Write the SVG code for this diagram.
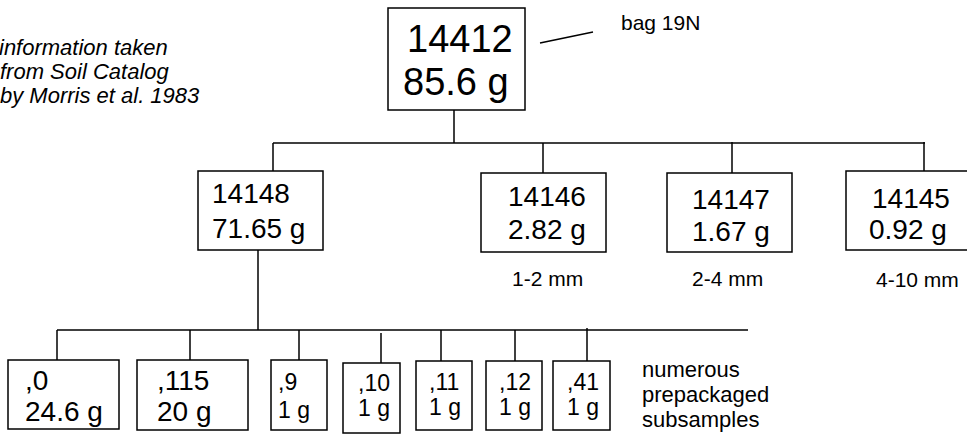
<svg xmlns="http://www.w3.org/2000/svg" width="967" height="437" viewBox="0 0 967 437">
<style>
text{font-family:"Liberation Sans",Arial,sans-serif;fill:#000}
.box{fill:#fff;stroke:#000;stroke-width:1.5}
.ln{stroke:#000;stroke-width:1.5;fill:none}
.big{font-size:38px}
.mid{font-size:28px}
.sm{font-size:23px}
.lbl{font-size:21px}
.note{font-size:22px;font-style:italic}
.n22{font-size:22px}
</style>
<rect width="967" height="437" fill="#fff"/>
<g id="connectors">
<line class="ln" x1="454" y1="110" x2="454" y2="143"/>
<line class="ln" x1="273" y1="143" x2="925" y2="143"/>
<line class="ln" x1="273" y1="143" x2="273" y2="171"/>
<line class="ln" x1="543" y1="143" x2="543" y2="173"/>
<line class="ln" x1="732" y1="142" x2="732" y2="173"/>
<line class="ln" x1="924" y1="142" x2="924" y2="171"/>
<line class="ln" x1="258" y1="250" x2="258" y2="330"/>
<line class="ln" x1="57" y1="330" x2="748" y2="330"/>
<line class="ln" x1="57" y1="330" x2="57" y2="360"/>
<line class="ln" x1="190" y1="330" x2="190" y2="360"/>
<line class="ln" x1="299" y1="330" x2="299" y2="360"/>
<line class="ln" x1="381" y1="333" x2="381" y2="363"/>
<line class="ln" x1="441" y1="330" x2="441" y2="361"/>
<line class="ln" x1="515" y1="330" x2="515" y2="363"/>
<line class="ln" x1="587" y1="328" x2="587" y2="361"/>
<line class="ln" x1="540" y1="43" x2="593" y2="32"/>
</g>
<g id="note">
<text class="note" x="-1" y="55">information taken</text>
<text class="note" x="0" y="79">from Soil Catalog</text>
<text class="note" x="0" y="103">by Morris et al. 1983</text>
</g>
<g id="bag-label"><text class="lbl" x="621" y="30">bag 19N</text></g>
<g id="n14412">
<rect class="box" x="388" y="8" width="137" height="102"/>
<text class="big" x="407" y="52">14412</text>
<text class="big" x="403" y="95">85.6 g</text>
</g>
<g id="n14148">
<rect class="box" x="198" y="171" width="125" height="79"/>
<text class="mid" x="212" y="203">14148</text>
<text class="mid" x="212" y="238">71.65 g</text>
</g>
<g id="n14146">
<rect class="box" x="481" y="173" width="125" height="79"/>
<text class="mid" x="508" y="206">14146</text>
<text class="mid" x="508" y="239">2.82 g</text>
<text class="lbl" x="512" y="286">1-2 mm</text>
</g>
<g id="n14147">
<rect class="box" x="667" y="173" width="125" height="79"/>
<text class="mid" x="692" y="209">14147</text>
<text class="mid" x="692" y="241">1.67 g</text>
<text class="lbl" x="692" y="286">2-4 mm</text>
</g>
<g id="n14145">
<rect class="box" x="846" y="171" width="125" height="79"/>
<text class="mid" x="872" y="208">14145</text>
<text class="mid" x="869" y="239">0.92 g</text>
<text class="lbl" x="876" y="287">4-10 mm</text>
</g>
<g id="s0">
<rect class="box" x="8" y="360" width="111" height="69"/>
<text class="mid" x="25" y="390">,0</text>
<text class="mid" x="25" y="421">24.6 g</text>
</g>
<g id="s115">
<rect class="box" x="137" y="360" width="111" height="70"/>
<text class="mid" x="157" y="390">,115</text>
<text class="mid" x="157" y="421">20 g</text>
</g>
<g id="s9">
<rect class="box" x="271" y="360" width="56" height="70"/>
<text class="sm" x="278" y="390">,9</text>
<text class="sm" x="278" y="418">1 g</text>
</g>
<g id="s10">
<rect class="box" x="343" y="363" width="57" height="70"/>
<text class="sm" x="358" y="391">,10</text>
<text class="sm" x="358" y="416">1 g</text>
</g>
<g id="s11">
<rect class="box" x="416" y="361" width="56" height="69"/>
<text class="sm" x="429" y="390">,11</text>
<text class="sm" x="429" y="415">1 g</text>
</g>
<g id="s12">
<rect class="box" x="486" y="361" width="56" height="69"/>
<text class="sm" x="499" y="390">,12</text>
<text class="sm" x="499" y="415">1 g</text>
</g>
<g id="s41">
<rect class="box" x="553" y="361" width="57" height="69"/>
<text class="sm" x="567" y="390">,41</text>
<text class="sm" x="567" y="415">1 g</text>
</g>
<g id="subsamples-note">
<text class="n22" x="642" y="377">numerous</text>
<text class="n22" x="642" y="402">prepackaged</text>
<text class="n22" x="642" y="427">subsamples</text>
</g>
</svg>
